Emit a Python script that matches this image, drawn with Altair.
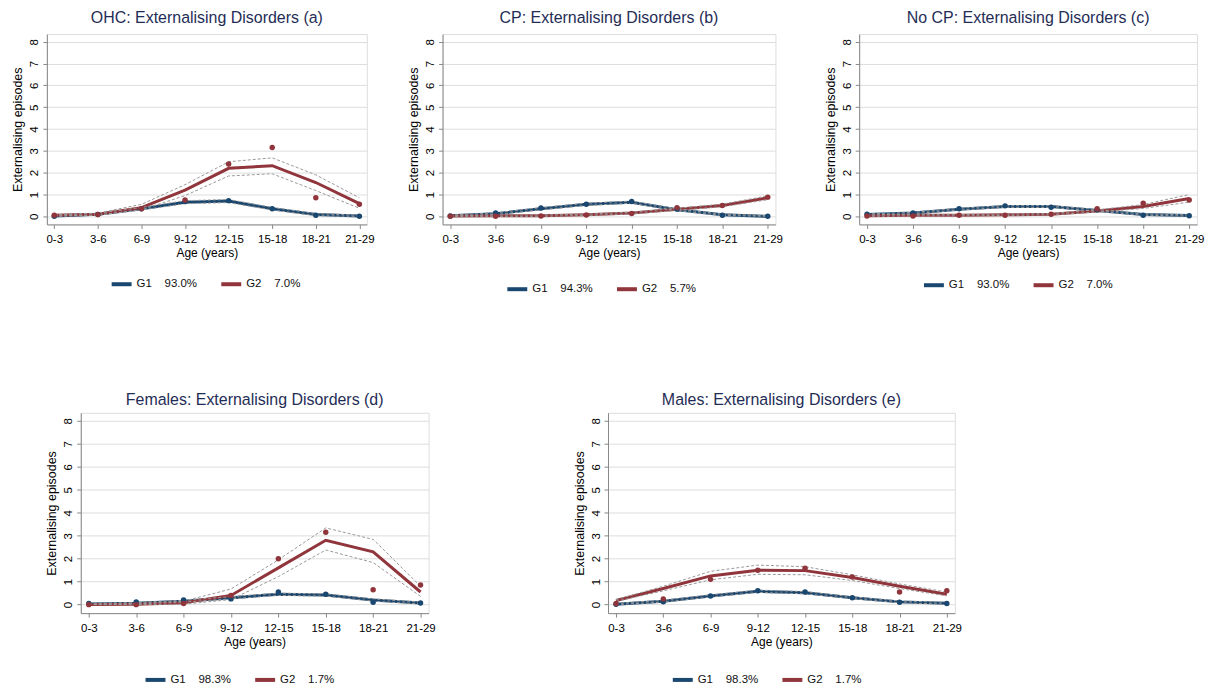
import altair as alt
import pandas as pd

FONT = "Liberation Sans"
NAVY = "#1a476f"
MAROON = "#90353b"
GRAY = "#9a9a9a"
TITLE_COLOR = "#1f2d56"

AGES = ["0-3", "3-6", "6-9", "9-12", "12-15", "15-18", "18-21", "21-29"]

# Panel (a) OHC
a_g1_pred = [0.02, 0.10, 0.35, 0.65, 0.70, 0.35, 0.08, 0.02]
a_g1_obs = [0.00, 0.08, 0.35, 0.68, 0.72, 0.35, 0.05, 0.00]
a_g1_lo = [0.00, 0.06, 0.29, 0.58, 0.63, 0.29, 0.03, 0.00]
a_g1_hi = [0.05, 0.14, 0.41, 0.72, 0.77, 0.41, 0.13, 0.05]
a_g2_pred = [0.05, 0.10, 0.40, 1.20, 2.20, 2.32, 1.55, 0.58]
a_g2_obs = [0.05, 0.08, 0.35, 0.75, 2.40, 3.15, 0.85, 0.55]
a_g2_lo = [0.02, 0.05, 0.30, 0.95, 1.85, 1.95, 1.18, 0.37]
a_g2_hi = [0.08, 0.15, 0.55, 1.45, 2.50, 2.68, 1.90, 0.85]

# Panel (b) CP
b_g1_pred = [0.03, 0.12, 0.35, 0.55, 0.65, 0.30, 0.07, 0.00]
b_g1_obs = [0.02, 0.15, 0.38, 0.55, 0.68, 0.33, 0.05, 0.00]
b_g1_lo = [0.00, 0.08, 0.30, 0.50, 0.60, 0.26, 0.04, 0.00]
b_g1_hi = [0.06, 0.16, 0.40, 0.60, 0.70, 0.34, 0.10, 0.03]
b_g2_pred = [0.02, 0.03, 0.03, 0.07, 0.15, 0.32, 0.50, 0.85]
b_g2_obs = [0.00, 0.00, 0.02, 0.06, 0.13, 0.40, 0.50, 0.88]
b_g2_lo = [0.00, 0.00, 0.00, 0.04, 0.11, 0.27, 0.44, 0.76]
b_g2_hi = [0.04, 0.06, 0.06, 0.10, 0.19, 0.37, 0.56, 0.94]

# Panel (c) No CP
c_g1_pred = [0.08, 0.15, 0.33, 0.45, 0.45, 0.27, 0.08, 0.04]
c_g1_obs = [0.10, 0.15, 0.35, 0.48, 0.42, 0.30, 0.05, 0.03]
c_g1_lo = [0.05, 0.12, 0.29, 0.41, 0.41, 0.23, 0.05, 0.01]
c_g1_hi = [0.11, 0.18, 0.37, 0.49, 0.49, 0.31, 0.11, 0.07]
c_g2_pred = [0.03, 0.05, 0.05, 0.07, 0.10, 0.25, 0.45, 0.82]
c_g2_obs = [0.02, 0.02, 0.05, 0.05, 0.10, 0.35, 0.60, 0.75]
c_g2_lo = [0.00, 0.02, 0.02, 0.04, 0.07, 0.20, 0.36, 0.65]
c_g2_hi = [0.06, 0.08, 0.08, 0.10, 0.13, 0.30, 0.54, 1.00]

# Panel (d) Females
d_g1_pred = [0.03, 0.06, 0.15, 0.30, 0.45, 0.42, 0.20, 0.07]
d_g1_obs = [0.05, 0.12, 0.20, 0.25, 0.55, 0.45, 0.10, 0.07]
d_g1_lo = [0.00, 0.03, 0.11, 0.25, 0.40, 0.37, 0.15, 0.03]
d_g1_hi = [0.06, 0.09, 0.19, 0.35, 0.50, 0.47, 0.25, 0.11]
d_g2_pred = [0.00, 0.02, 0.08, 0.40, 1.60, 2.80, 2.30, 0.55]
d_g2_obs = [0.00, 0.00, 0.05, 0.40, 2.00, 3.15, 0.65, 0.85]
d_g2_lo = [0.00, 0.00, 0.02, 0.22, 1.22, 2.38, 1.83, 0.36]
d_g2_hi = [0.02, 0.05, 0.15, 0.68, 1.95, 3.34, 2.84, 0.80]

# Panel (e) Males
e_g1_pred = [0.02, 0.15, 0.38, 0.58, 0.52, 0.30, 0.12, 0.06]
e_g1_obs = [0.02, 0.12, 0.38, 0.60, 0.55, 0.30, 0.10, 0.05]
e_g1_lo = [0.00, 0.11, 0.33, 0.53, 0.47, 0.26, 0.08, 0.02]
e_g1_hi = [0.05, 0.19, 0.43, 0.63, 0.57, 0.34, 0.16, 0.10]
e_g2_pred = [0.18, 0.70, 1.25, 1.50, 1.48, 1.18, 0.80, 0.45]
e_g2_obs = [0.05, 0.25, 1.10, 1.50, 1.58, 1.20, 0.55, 0.60]
e_g2_lo = [0.14, 0.60, 1.08, 1.32, 1.30, 1.05, 0.70, 0.38]
e_g2_hi = [0.22, 0.80, 1.45, 1.72, 1.65, 1.30, 0.90, 0.55]

SP = "\u00a0" * 4


def panel(title, lab1, lab2, g1, g2, w, h, legend_y, title_offset):
    rows = []
    for lab, (pred, obs, lo, hi) in ((lab1, g1), (lab2, g2)):
        for i, age in enumerate(AGES):
            rows.append(dict(age=age, grp=lab, pred=pred[i], obs=obs[i], lo=lo[i], hi=hi[i]))
    df = pd.DataFrame(rows)

    xaxis = alt.Axis(title="Age (years)", labelAngle=0, grid=False, tickSize=4,
                     labelPadding=5, titlePadding=3, labelFontSize=11.5, titleFontSize=12,
                     titleFontWeight="normal")
    yaxis = alt.Axis(title="Externalising episodes", values=list(range(9)), grid=True,
                     tickSize=4, labelPadding=3, labelAngle=-90, labelAlign="center",
                     labelBaseline="bottom", titlePadding=4, labelFontSize=11.5,
                     titleFontSize=12.5, titleFontWeight="normal")
    x = alt.X("age:O", sort=AGES, scale=alt.Scale(type="point", padding=0.17), axis=xaxis)
    yscale = alt.Scale(domain=[-0.37, 8.35], nice=False, zero=False)
    leg = alt.Legend(orient="none", legendX=63, legendY=legend_y, direction="horizontal",
                     title=None, symbolType="stroke", symbolStrokeWidth=4, symbolSize=400,
                     labelFontSize=11.5, labelFont=FONT, labelColor="#111",
                     columnPadding=16, labelOffset=3)
    color = alt.Color("grp:N", scale=alt.Scale(domain=[lab1, lab2], range=[NAVY, MAROON]),
                      legend=leg)
    base = alt.Chart(df)
    line = base.mark_line(strokeWidth=3).encode(
        x=x, y=alt.Y("pred:Q", scale=yscale, axis=yaxis), color=color)
    ci = base.transform_fold(["lo", "hi"], as_=["bound", "v"]).mark_line(
        strokeWidth=1, strokeDash=[3, 2], color=GRAY).encode(
        x=x, y=alt.Y("v:Q", scale=yscale, axis=yaxis), detail=["grp:N", "bound:N"])
    pts = base.mark_circle(size=30, opacity=1).encode(
        x=x, y=alt.Y("obs:Q", scale=yscale, axis=yaxis), color=color)
    return alt.layer(line, ci, pts).properties(
        width=w, height=h,
        title=alt.TitleParams(title, fontSize=16, font=FONT, fontWeight="normal",
                              color=TITLE_COLOR, anchor="middle", offset=title_offset))


pa = panel("OHC: Externalising Disorders (a)", "G1" + SP + "93.0%", "G2" + SP + "7.0%",
           (a_g1_pred, a_g1_obs, a_g1_lo, a_g1_hi), (a_g2_pred, a_g2_obs, a_g2_lo, a_g2_hi),
           321, 191, 239, 8)
pb = panel("CP: Externalising Disorders (b)", "G1" + SP + "94.3%", "G2" + SP + "5.7%",
           (b_g1_pred, b_g1_obs, b_g1_lo, b_g1_hi), (b_g2_pred, b_g2_obs, b_g2_lo, b_g2_hi),
           334, 191, 244, 8)
pc = panel("No CP: Externalising Disorders (c)", "G1" + SP + "93.0%", "G2" + SP + "7.0%",
           (c_g1_pred, c_g1_obs, c_g1_lo, c_g1_hi), (c_g2_pred, c_g2_obs, c_g2_lo, c_g2_hi),
           339, 191, 240, 8)
pd_ = panel("Females: Externalising Disorders (d)", "G1" + SP + "98.3%", "G2" + SP + "1.7%",
            (d_g1_pred, d_g1_obs, d_g1_lo, d_g1_hi), (d_g2_pred, d_g2_obs, d_g2_lo, d_g2_hi),
            349, 201, 256, 5)
pe = panel("Males: Externalising Disorders (e)", "G1" + SP + "98.3%", "G2" + SP + "1.7%",
           (e_g1_pred, e_g1_obs, e_g1_lo, e_g1_hi), (e_g2_pred, e_g2_obs, e_g2_lo, e_g2_hi),
           348, 201, 256, 5)

# invisible layout spacer (no rows, so nothing is drawn)
spacer = alt.Chart(pd.DataFrame({"v": pd.Series([], dtype=float)})).mark_point(
    opacity=0).encode(
    x=alt.X("v:Q", axis=None), y=alt.Y("v:Q", axis=None)).properties(
    width=1, height=1, view=alt.ViewBackground(stroke=None, fill=None))

RES = dict(x="independent", y="independent", color="independent")

inner = alt.hconcat(pb, pc, spacing=84, bounds="flush").resolve_scale(**RES)
top = alt.hconcat(pa, inner, spacing=76, bounds="flush").resolve_scale(**RES)
inner_b = alt.hconcat(pd_, pe, spacing=180, bounds="flush").resolve_scale(**RES)
bottom = alt.hconcat(spacer, inner_b, spacing=33, bounds="flush").resolve_scale(**RES)

chart = alt.vconcat(top, bottom, spacing=380, bounds="flush").resolve_scale(**RES).properties(
    padding={"left": 3, "top": 0, "right": 5, "bottom": 5}
).configure_view(stroke=None).configure_axis(
    labelFont=FONT, titleFont=FONT, labelColor="#111", titleColor="#111",
    tickColor="#000", domainColor="#000", gridColor="#e6eef0", titleFontWeight="normal"
).configure(background="white")

chart.save("out.html", embed_options={"renderer": "svg", "actions": False})
